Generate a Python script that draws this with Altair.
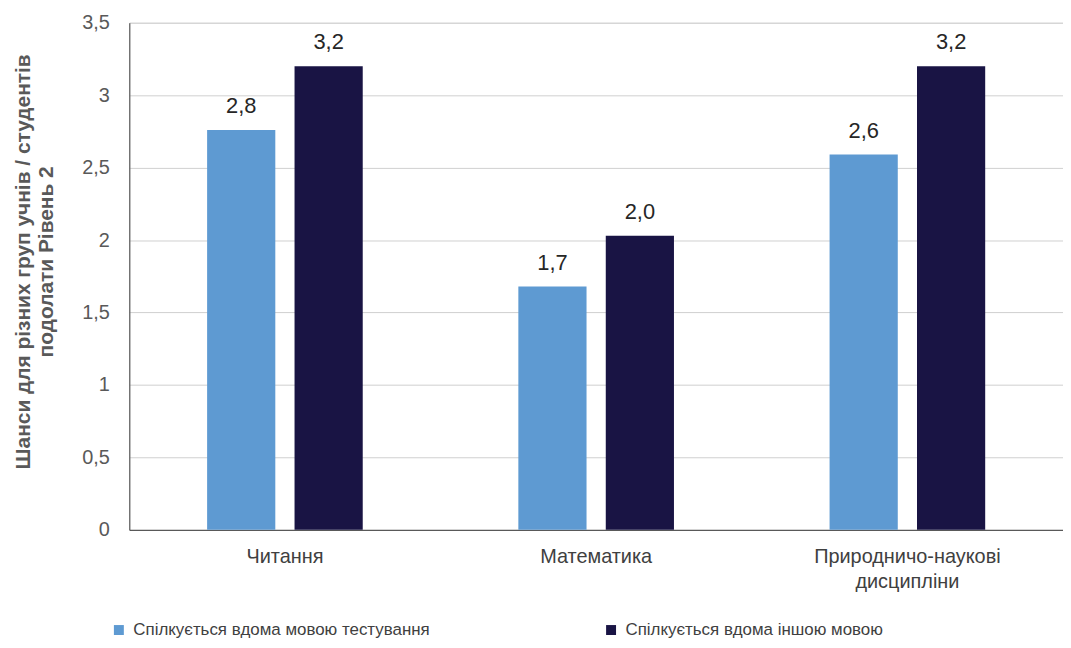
import altair as alt
import pandas as pd

categories = ["Читання", "Математика", "Природничо-наукові дисципліни"]
groups = ["Спілкується вдома мовою тестування", "Спілкується вдома іншою мовою"]
test_lang = [2.76, 1.68, 2.59]
other_lang = [3.2, 2.03, 3.2]
colors = ["#5e9ad2", "#191444"]
y_title = ["Шанси для різних груп учнів / студентів", "подолати Рівень 2"]

rows = []
for i, c in enumerate(categories):
    rows.append({"cat": c, "grp": groups[0], "value": test_lang[i]})
    rows.append({"cat": c, "grp": groups[1], "value": other_lang[i]})
df = pd.DataFrame(rows)

FONT = "Liberation Sans"

base = alt.Chart(df).encode(
    x=alt.X(
        "cat:N",
        sort=categories,
        scale=alt.Scale(paddingInner=0.5, paddingOuter=0.25),
        axis=alt.Axis(
            title=None,
            labelAngle=0,
            labelExpr="split(datum.label, ' ')",
            labelFontSize=20,
            labelColor="#404040",
            labelPadding=17,
            labelLineHeight=25,
            labelLimit=0,
            ticks=False,
            domainColor="#404040",
            labelFont=FONT,
        ),
    ),
    xOffset=alt.XOffset("grp:N", sort=groups, scale=alt.Scale(paddingInner=0.22, paddingOuter=0)),
    y=alt.Y(
        "value:Q",
        scale=alt.Scale(domain=[0, 3.5], nice=False),
        axis=alt.Axis(
            title=y_title,
            values=[0, 0.5, 1, 1.5, 2, 2.5, 3, 3.5],
            labelExpr="replace(toString(datum.value), '.', ',')",
            labelFontSize=20,
            labelColor="#595959",
            labelPadding=20,
            ticks=False,
            domainColor="#404040",
            gridColor="#d0d0d0",
            titleFontSize=21,
            titleFontWeight="bold",
            titleColor="#595959",
            titleAngle=-90,
            titleAlign="center",
            titleBaseline="top",
            titleX=-117,
            titleY=240,
            titleLineHeight=23,
            labelFont=FONT,
            titleFont=FONT,
        ),
    ),
)

bars = base.mark_bar().encode(
    color=alt.Color(
        "grp:N",
        sort=groups,
        scale=alt.Scale(domain=groups, range=colors),
        legend=alt.Legend(
            title=None,
            orient="none",
            legendX=-19,
            legendY=602,
            direction="horizontal",
            columns=2,
            columnPadding=173,
            padding=0,
            symbolType="square",
            symbolSize=100,
            symbolStrokeWidth=0,
            labelFontSize=17,
            labelColor="#404040",
            labelFont=FONT,
            labelOffset=6,
            labelLimit=0,
        ),
    )
)

labels = base.mark_text(
    baseline="bottom", dy=-12, fontSize=22, color="#262626", font=FONT
).encode(text="label:N").transform_calculate(
    label="replace(format(datum.value, '.1f'), '.', ',')"
)

chart = (
    alt.layer(bars, labels)
    .properties(
        width=939,
        height=510,
        autosize=alt.AutoSizeParams(type="none"),
        padding={"left": 122, "top": 13, "right": 0, "bottom": 115},
    )
    .configure_view(stroke="#404040", strokeWidth=1)
    .configure(background="white")
)

chart.save("out.html", embed_options={"renderer": "svg", "actions": False})
